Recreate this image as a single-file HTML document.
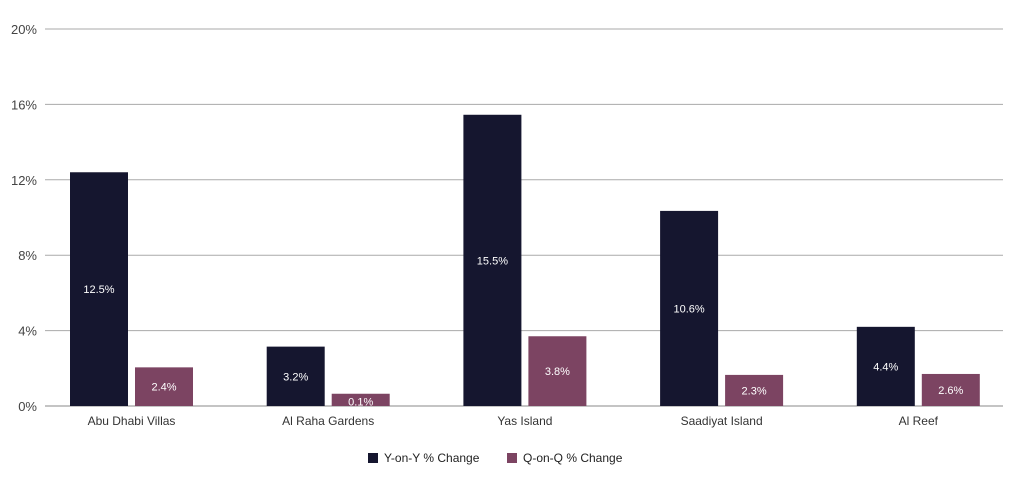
<!DOCTYPE html>
<html><head><meta charset="utf-8"><style>
body{margin:0;background:#fff;font-family:"Liberation Sans",sans-serif}
</style></head><body>
<svg width="1024" height="476" xmlns="http://www.w3.org/2000/svg" id="chart" font-family="Liberation Sans, sans-serif"></svg>
<script>
const categories=["Abu Dhabi Villas","Al Raha Gardens","Yas Island","Saadiyat Island","Al Reef"];
const yoyValues=[12.4,3.15,15.45,10.35,4.2];
const qoqValues=[2.05,0.65,3.7,1.65,1.7];
const yoyLabels=["12.5%","3.2%","15.5%","10.6%","4.4%"];
const qoqLabels=["2.4%","0.1%","3.8%","2.3%","2.6%"];
const yTicks=[0,4,8,12,16,20];
const svg=document.getElementById('chart');
const NS="http://www.w3.org/2000/svg";
const y0=406,yTop=29,yMax=20;
const yScale=v=>y0-(v/yMax)*(y0-yTop);
const xCenter=i=>131.5+i*196.7;
function mk(tag,attrs,text){const e=document.createElementNS(NS,tag);for(const k in attrs)e.setAttribute(k,attrs[k]);if(text!==undefined)e.textContent=text;svg.appendChild(e);return e;}
yTicks.forEach(t=>{
 const y=yScale(t);
 const g=mk('line',{x1:45,x2:1003,y1:y,y2:y,stroke:t===0?'#888':'#aaa','stroke-width':1});
 
 
 const l=mk('text',{x:37,y:y+5,'text-anchor':'end','font-size':13,fill:'#444'},t+'%');
 
 
});
const bw=58;
categories.forEach((c,i)=>{
 const cx=xCenter(i);
 const ya=yScale(yoyValues[i]);
 const b1=mk('rect',{x:cx-61.5,y:ya,width:bw,height:y0-ya,fill:'#15162f'});
 
 
 const yb=yScale(qoqValues[i]);
 const b2=mk('rect',{x:cx+3.5,y:yb,width:bw,height:y0-yb,fill:'#7c4462'});
 
 
 const t1=mk('text',{x:cx-32.5,y:(ya+y0)/2+4,'text-anchor':'middle','font-size':11,fill:'#fff'},yoyLabels[i]);
 
 
 const t2=mk('text',{x:cx+32.5,y:Math.max((yb+y0)/2+4,yb+12),'text-anchor':'middle','font-size':11,fill:'#fff'},qoqLabels[i]);
 
 
 const xl=mk('text',{x:cx,y:425,'text-anchor':'middle','font-size':12,fill:'#333'},c);
 
 
});
const lg=[["Y-on-Y % Change","#15162f",368],["Q-on-Q % Change","#7c4462",507]];
lg.forEach(([n,col,x])=>{
 const r=mk('rect',{x:x,y:453,width:10,height:10,fill:col});
 
 
 const t=mk('text',{x:x+16,y:462,'font-size':12,fill:'#222'},n);
 
 
});
</script>
</body></html>
